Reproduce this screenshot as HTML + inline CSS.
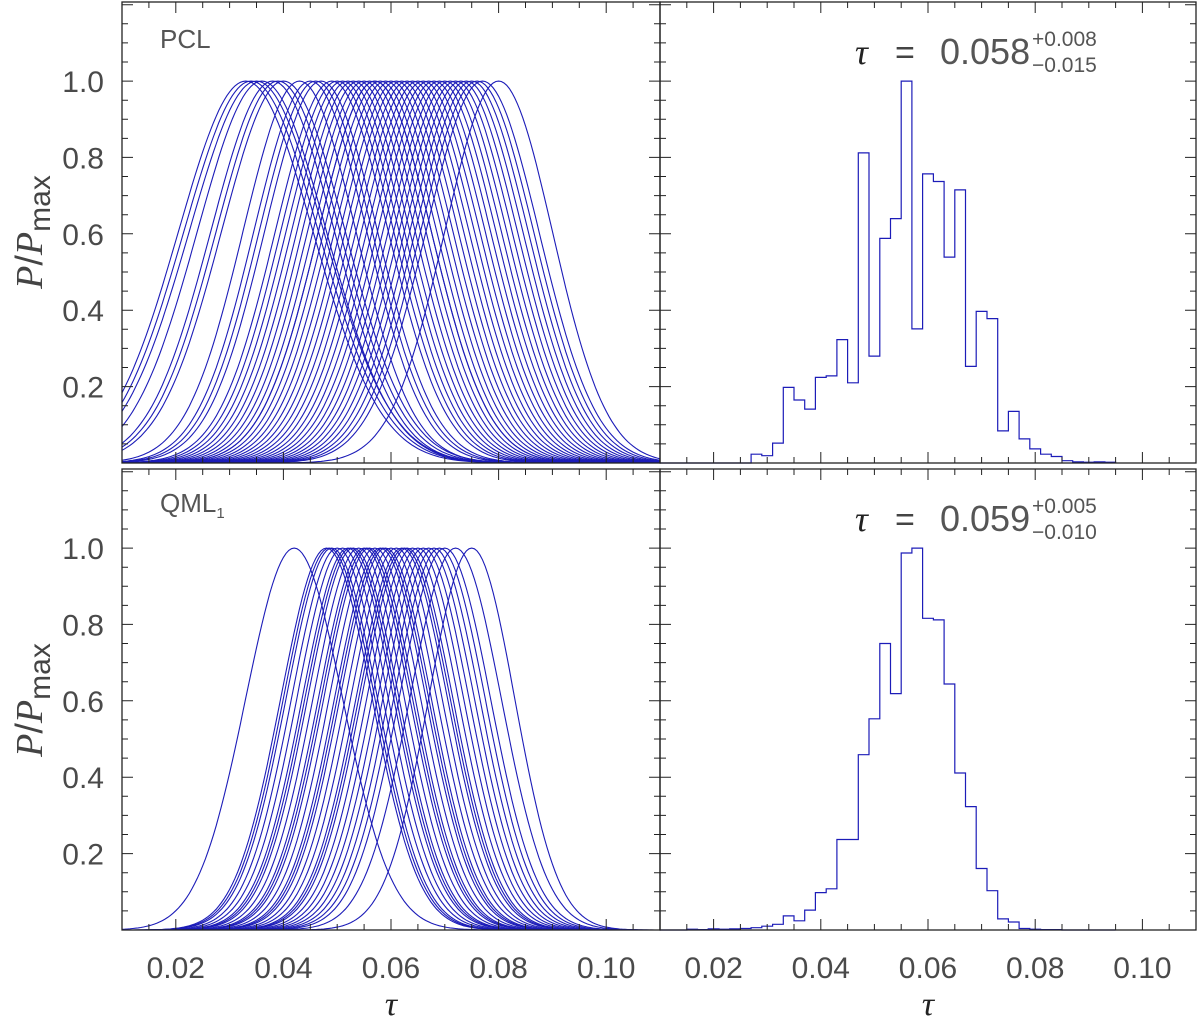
<!DOCTYPE html>
<html><head><meta charset="utf-8"><style>
html,body{margin:0;padding:0;background:#fff;}
svg{display:block;font-family:"Liberation Sans",sans-serif;}
.tl{font-size:30px;fill:#4a4a4a;font-weight:normal;}
</style></head><body>
<svg id="fig" width="1200" height="1022" viewBox="0 0 1200 1022" xmlns="http://www.w3.org/2000/svg"></svg>
<script>
// ---- data ----
const pclCenters = [0.033,0.034,0.035,0.036,0.038,0.039,0.040,0.043,0.045,0.046,0.047,0.049,0.050,0.051,0.052,0.053,0.054,0.055,0.056,0.057,0.057,0.058,0.059,0.060,0.061,0.062,0.063,0.064,0.065,0.066,0.067,0.068,0.069,0.070,0.071,0.072,0.073,0.074,0.075,0.076,0.077,0.080];
const pclSigmas  = [0.0125,0.0125,0.0125,0.012,0.0115,0.0115,0.0115,0.0105,0.0105,0.0105,0.0105,0.0105,0.0105,0.0105,0.0105,0.0105,0.0105,0.0105,0.0105,0.0105,0.0105,0.0105,0.0105,0.0105,0.0105,0.0105,0.0105,0.0105,0.0105,0.0105,0.0105,0.0105,0.0105,0.0105,0.0105,0.0105,0.0105,0.0105,0.0105,0.0105,0.0105,0.010];
const qmlCenters = [0.042,0.048,0.0485,0.049,0.050,0.051,0.052,0.0525,0.053,0.054,0.055,0.0555,0.056,0.057,0.058,0.0585,0.059,0.060,0.061,0.062,0.0625,0.063,0.064,0.065,0.066,0.067,0.068,0.069,0.070,0.072,0.075];
const qmlSigmas  = [0.009,0.0085,0.0085,0.0085,0.0085,0.0085,0.0085,0.0085,0.0085,0.0085,0.0085,0.0085,0.0085,0.0085,0.0085,0.0085,0.0085,0.0085,0.0085,0.0085,0.0085,0.0085,0.0085,0.0085,0.0085,0.0085,0.0085,0.0085,0.0085,0.0085,0.008];
const histEdges = [0.015,0.017,0.019,0.021,0.023,0.025,0.027,0.029,0.031,0.033,0.035,0.037,0.039,0.041,0.043,0.045,0.047,0.049,0.051,0.053,0.055,0.057,0.059,0.061,0.063,0.065,0.067,0.069,0.071,0.073,0.075,0.077,0.079,0.081,0.083,0.085,0.087,0.089,0.091,0.093,0.095];
const pclHist = [0,0,0,0,0,0,0.023,0.019,0.052,0.198,0.165,0.141,0.224,0.228,0.323,0.21,0.812,0.28,0.588,0.64,1.0,0.351,0.757,0.737,0.539,0.715,0.253,0.397,0.378,0.084,0.135,0.063,0.037,0.023,0.017,0.006,0.003,0.002,0.003,0.002];
const qmlHist = [0.002,0.001,0.003,0.002,0.003,0.004,0.006,0.010,0.015,0.037,0.024,0.052,0.098,0.108,0.237,0.237,0.459,0.553,0.75,0.619,0.987,1.0,0.816,0.812,0.644,0.411,0.323,0.161,0.103,0.029,0.021,0.004,0.002,0.001,0.001,0,0,0,0,0];
const xTicks = [0.02,0.04,0.06,0.08,0.10];
const xTickLabels = ["0.02","0.04","0.06","0.08","0.10"];
const yTicks = [0.2,0.4,0.6,0.8,1.0];
const yTickLabels = ["0.2","0.4","0.6","0.8","1.0"];

const NS="http://www.w3.org/2000/svg";
const svg=document.getElementById('fig');
function el(tag,attrs,parent){const e=document.createElementNS(NS,tag);for(const k in attrs)e.setAttribute(k,attrs[k]);(parent||svg).appendChild(e);return e;}
const XMIN=0.01,XMAX=0.11,YMAX=1.207;
const panels=[
 {x0:122,x1:660,y0:2,y1:463},
 {x0:660,x1:1196,y0:2,y1:463},
 {x0:122,x1:660,y0:469,y1:930},
 {x0:660,x1:1196,y0:469,y1:930}];
function sx(p,v){return p.x0+(v-XMIN)/(XMAX-XMIN)*(p.x1-p.x0);}
function sy(p,v){return p.y1-v/YMAX*(p.y1-p.y0);}
const blue="#1c1cb8";

function drawCurves(p,centers,sigmas,name){
  const g=el('g',{});
  
  
  for(let i=0;i<centers.length;i++){
    let d='';
    for(let k=0;k<=200;k++){const t=XMIN+(XMAX-XMIN)*k/200;const z=(t-centers[i])/sigmas[i];const v=Math.exp(-0.5*z*z);
      d+=(k?'L':'M')+sx(p,t).toFixed(1)+' '+sy(p,v).toFixed(1);}
    const path=el('path',{d:d,fill:'none',stroke:blue,'stroke-width':1.1},g);
    
    
  }
}
function drawHist(p,edges,vals,name){
  let d='M'+sx(p,XMIN)+' '+sy(p,0)+'L'+sx(p,edges[0])+' '+sy(p,0);
  for(let i=0;i<vals.length;i++){d+='L'+sx(p,edges[i]).toFixed(1)+' '+sy(p,vals[i]).toFixed(1)+'L'+sx(p,edges[i+1]).toFixed(1)+' '+sy(p,vals[i]).toFixed(1);}
  d+='L'+sx(p,edges[edges.length-1]).toFixed(1)+' '+sy(p,0);
  const h=el('path',{d:d,fill:'none',stroke:blue,'stroke-width':1.2});
  
  
}
drawCurves(panels[0],pclCenters,pclSigmas,'pcl-curves');
drawCurves(panels[2],qmlCenters,qmlSigmas,'qml-curves');
drawHist(panels[1],histEdges,pclHist,'pcl-histogram');
drawHist(panels[3],histEdges,qmlHist,'qml-histogram');

panels.forEach((p,pi)=>{
  const fr=el('rect',{x:p.x0,y:p.y0,width:p.x1-p.x0,height:p.y1-p.y0,fill:'none',stroke:'#222','stroke-width':1.3});
  
  
  let d='';
  for(let t=0.015;t<0.1101;t+=0.005){const x=sx(p,t);const major=Math.abs(Math.round(t*100)/100-t)<1e-6&&Math.round(t*100)%2===0;const L=major?11:6;
    d+=`M${x.toFixed(1)} ${p.y1}v${-L}M${x.toFixed(1)} ${p.y0}v${L}`;}
  for(let v=0.05;v<YMAX;v+=0.05){const y=sy(p,v);const major=Math.abs(Math.round(v*5)/5-v)<1e-6;const L=major?11:6;
    d+=`M${p.x0} ${y.toFixed(1)}h${L}M${p.x1} ${y.toFixed(1)}h${-L}`;}
  el('path',{d:d,stroke:'#222','stroke-width':1,fill:'none'});
  if(pi%2===0){
    yTicks.forEach((v,i)=>{const t=el('text',{x:p.x0-18,y:sy(p,v)+11,'text-anchor':'end',class:'tl'});t.textContent=yTickLabels[i];
      });
  }
  if(pi>=2){
    xTicks.forEach((v,i)=>{const t=el('text',{x:sx(p,v),y:978,'text-anchor':'middle',class:'tl'});t.textContent=xTickLabels[i];
      });
  }
});
</script>
<svg style="position:absolute;left:0;top:0" width="1200" height="1022" xmlns="http://www.w3.org/2000/svg" font-family="Liberation Sans, sans-serif">
  <text x="160" y="48" font-size="26" fill="#555">PCL</text>
  <text x="160" y="512" font-size="26" fill="#555">QML<tspan font-size="15" dy="6">1</tspan></text>
  <g>
    <text x="855" y="64" font-size="36" font-family="Liberation Serif, serif" font-style="italic" fill="#222">τ</text>
    <text x="895" y="64" font-size="34" fill="#444">=</text>
    <text x="940" y="64" font-size="36" fill="#555">0.058</text>
    <text x="1032" y="46" font-size="21" fill="#555">+0.008</text>
    <text x="1032" y="72" font-size="21" fill="#555">−0.015</text>
  </g>
  <g>
    <text x="855" y="531" font-size="36" font-family="Liberation Serif, serif" font-style="italic" fill="#222">τ</text>
    <text x="895" y="531" font-size="34" fill="#444">=</text>
    <text x="940" y="531" font-size="36" fill="#555">0.059</text>
    <text x="1032" y="513" font-size="21" fill="#555">+0.005</text>
    <text x="1032" y="539" font-size="21" fill="#555">−0.010</text>
  </g>
  <text transform="translate(42,232) rotate(-90)" text-anchor="middle" font-size="38" fill="#444"><tspan font-family="Liberation Serif, serif" font-style="italic">P</tspan>/<tspan font-family="Liberation Serif, serif" font-style="italic">P</tspan><tspan font-size="30" dy="8">max</tspan></text>
  <text transform="translate(42,700) rotate(-90)" text-anchor="middle" font-size="38" fill="#444"><tspan font-family="Liberation Serif, serif" font-style="italic">P</tspan>/<tspan font-family="Liberation Serif, serif" font-style="italic">P</tspan><tspan font-size="30" dy="8">max</tspan></text>
  <text x="391" y="1015" text-anchor="middle" font-size="34" font-family="Liberation Serif, serif" font-style="italic" fill="#222">τ</text>
  <text x="928" y="1015" text-anchor="middle" font-size="34" font-family="Liberation Serif, serif" font-style="italic" fill="#222">τ</text>
</svg>
</body></html>
